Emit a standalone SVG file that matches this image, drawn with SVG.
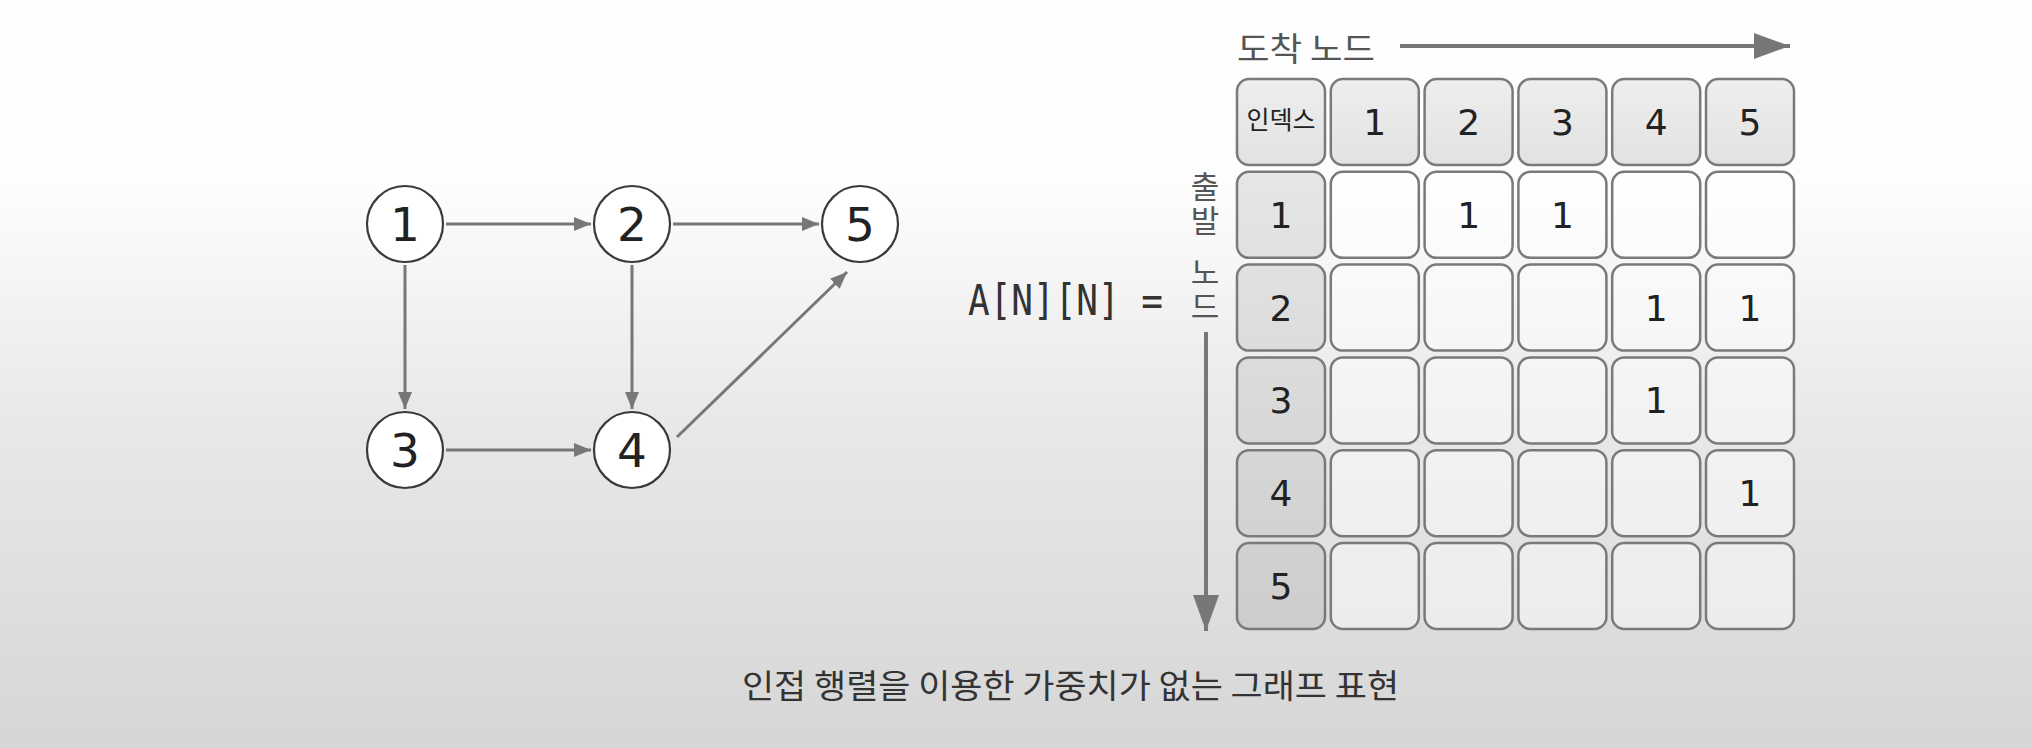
<svg xmlns="http://www.w3.org/2000/svg" width="2032" height="748" viewBox="0 0 2032 748">
<defs>
<linearGradient id="bg" x1="0" y1="0" x2="0" y2="1">
<stop offset="0" stop-color="#ffffff"/>
<stop offset="0.25" stop-color="#fdfdfd"/>
<stop offset="0.55" stop-color="#e9e9e9"/>
<stop offset="1" stop-color="#d6d6d6"/>
</linearGradient>
<linearGradient id="hdr" x1="0" y1="0" x2="0" y2="1">
<stop offset="0" stop-color="#eeeeee"/>
<stop offset="1" stop-color="#e2e2e2"/>
</linearGradient>
<linearGradient id="idx" gradientUnits="userSpaceOnUse" x1="0" y1="172" x2="0" y2="629">
<stop offset="0" stop-color="#e6e6e6"/>
<stop offset="1" stop-color="#cdcdcd"/>
</linearGradient>
<marker id="ah" markerUnits="userSpaceOnUse" markerWidth="18" markerHeight="16" refX="17" refY="8" orient="auto">
<path d="M0,1 L17,8 L0,15 Z" fill="#777"/>
</marker>
<marker id="ahBig" markerUnits="userSpaceOnUse" markerWidth="38" markerHeight="28" refX="36" refY="13" orient="auto">
<path d="M0,0 L36,13 L0,26 Z" fill="#777"/>
</marker>
</defs>
<style>
.nc{fill:#ffffff;stroke:#3a3a3a;stroke-width:2.2}
.nt{font-family:"DejaVu Sans","Noto Sans",sans-serif;font-size:47px;fill:#222;text-anchor:middle}
.ed{stroke:#777;stroke-width:3;fill:none;marker-end:url(#ah)}
.big{stroke:#777;stroke-width:4;fill:none;marker-end:url(#ahBig)}
.ch{fill:url(#hdr);stroke:#7a7a7a;stroke-width:2.5}
.ci{fill:url(#idx);stroke:#7a7a7a;stroke-width:2.5}
.cd{fill:#ffffff;fill-opacity:0.45;stroke:#7a7a7a;stroke-width:2.5}
.ct{font-family:"DejaVu Sans","Noto Sans",sans-serif;font-size:36px;fill:#222;text-anchor:middle}
.kr{font-family:"Noto Sans CJK KR","Noto Sans",sans-serif}
.vt{font-family:"Noto Sans CJK KR","Noto Sans",sans-serif;font-size:31px;fill:#555;writing-mode:vertical-rl;text-orientation:upright;letter-spacing:3px}
</style>
<rect x="0" y="0" width="2032" height="748" fill="url(#bg)"/>

<g id="connectors">
<line class="ed" x1="446" y1="224" x2="591" y2="224"/>
<line class="ed" x1="673" y1="224" x2="819" y2="224"/>
<line class="ed" x1="405" y1="265" x2="405" y2="409"/>
<line class="ed" x1="632" y1="265" x2="632" y2="409"/>
<line class="ed" x1="446" y1="450" x2="591" y2="450"/>
<line class="ed" x1="677" y1="437" x2="847" y2="272"/>
<line class="big" x1="1400" y1="46" x2="1790" y2="46"/>
<line class="big" x1="1206" y1="332" x2="1206" y2="631"/>
</g>

<g id="node-1"><circle class="nc" cx="405" cy="224" r="38"/><text class="nt" x="405" y="241">1</text></g>
<g id="node-2"><circle class="nc" cx="632" cy="224" r="38"/><text class="nt" x="632" y="241">2</text></g>
<g id="node-5"><circle class="nc" cx="860" cy="224" r="38"/><text class="nt" x="860" y="241">5</text></g>
<g id="node-3"><circle class="nc" cx="405" cy="450" r="38"/><text class="nt" x="405" y="467">3</text></g>
<g id="node-4"><circle class="nc" cx="632" cy="450" r="38"/><text class="nt" x="632" y="467">4</text></g>

<g id="labels">
<text class="kr" x="1237" y="61" font-size="33" fill="#555" textLength="138" lengthAdjust="spacingAndGlyphs">도착 노드</text>
<text class="vt" x="1205" y="171">출발</text>
<text class="vt" x="1205" y="257">노드</text>
<text x="968" y="315" font-family="'DejaVu Sans Mono','Liberation Mono',monospace" font-size="43" fill="#333" textLength="195" lengthAdjust="spacingAndGlyphs">A[N][N] =</text>
<text class="kr" x="742" y="698" font-size="33" fill="#333" textLength="657" lengthAdjust="spacingAndGlyphs">인접 행렬을 이용한 가중치가 없는 그래프 표현</text>
</g>

<g id="matrix">
<g id="h-idx"><rect class="ch" x="1237" y="79" width="88" height="86" rx="12"/><text class="kr" x="1281" y="129" font-size="25" fill="#222" text-anchor="middle">인덱스</text></g>
<g id="h-1"><rect class="ch" x="1330.8" y="79" width="88" height="86" rx="12"/><text class="ct" x="1374.8" y="135">1</text></g>
<g id="h-2"><rect class="ch" x="1424.6" y="79" width="88" height="86" rx="12"/><text class="ct" x="1468.6" y="135">2</text></g>
<g id="h-3"><rect class="ch" x="1518.4" y="79" width="88" height="86" rx="12"/><text class="ct" x="1562.4" y="135">3</text></g>
<g id="h-4"><rect class="ch" x="1612.2" y="79" width="88" height="86" rx="12"/><text class="ct" x="1656.2" y="135">4</text></g>
<g id="h-5"><rect class="ch" x="1706" y="79" width="88" height="86" rx="12"/><text class="ct" x="1750" y="135">5</text></g>

<g id="r1">
<rect class="ci" x="1237" y="171.8" width="88" height="86" rx="12"/><text class="ct" x="1281" y="227.8">1</text>
<rect class="cd" x="1330.8" y="171.8" width="88" height="86" rx="12"/>
<rect class="cd" x="1424.6" y="171.8" width="88" height="86" rx="12"/><text class="ct" x="1468.6" y="227.8">1</text>
<rect class="cd" x="1518.4" y="171.8" width="88" height="86" rx="12"/><text class="ct" x="1562.4" y="227.8">1</text>
<rect class="cd" x="1612.2" y="171.8" width="88" height="86" rx="12"/>
<rect class="cd" x="1706" y="171.8" width="88" height="86" rx="12"/>
</g>
<g id="r2">
<rect class="ci" x="1237" y="264.6" width="88" height="86" rx="12"/><text class="ct" x="1281" y="320.6">2</text>
<rect class="cd" x="1330.8" y="264.6" width="88" height="86" rx="12"/>
<rect class="cd" x="1424.6" y="264.6" width="88" height="86" rx="12"/>
<rect class="cd" x="1518.4" y="264.6" width="88" height="86" rx="12"/>
<rect class="cd" x="1612.2" y="264.6" width="88" height="86" rx="12"/><text class="ct" x="1656.2" y="320.6">1</text>
<rect class="cd" x="1706" y="264.6" width="88" height="86" rx="12"/><text class="ct" x="1750" y="320.6">1</text>
</g>
<g id="r3">
<rect class="ci" x="1237" y="357.4" width="88" height="86" rx="12"/><text class="ct" x="1281" y="413.4">3</text>
<rect class="cd" x="1330.8" y="357.4" width="88" height="86" rx="12"/>
<rect class="cd" x="1424.6" y="357.4" width="88" height="86" rx="12"/>
<rect class="cd" x="1518.4" y="357.4" width="88" height="86" rx="12"/>
<rect class="cd" x="1612.2" y="357.4" width="88" height="86" rx="12"/><text class="ct" x="1656.2" y="413.4">1</text>
<rect class="cd" x="1706" y="357.4" width="88" height="86" rx="12"/>
</g>
<g id="r4">
<rect class="ci" x="1237" y="450.2" width="88" height="86" rx="12"/><text class="ct" x="1281" y="506.2">4</text>
<rect class="cd" x="1330.8" y="450.2" width="88" height="86" rx="12"/>
<rect class="cd" x="1424.6" y="450.2" width="88" height="86" rx="12"/>
<rect class="cd" x="1518.4" y="450.2" width="88" height="86" rx="12"/>
<rect class="cd" x="1612.2" y="450.2" width="88" height="86" rx="12"/>
<rect class="cd" x="1706" y="450.2" width="88" height="86" rx="12"/><text class="ct" x="1750" y="506.2">1</text>
</g>
<g id="r5">
<rect class="ci" x="1237" y="543" width="88" height="86" rx="12"/><text class="ct" x="1281" y="599">5</text>
<rect class="cd" x="1330.8" y="543" width="88" height="86" rx="12"/>
<rect class="cd" x="1424.6" y="543" width="88" height="86" rx="12"/>
<rect class="cd" x="1518.4" y="543" width="88" height="86" rx="12"/>
<rect class="cd" x="1612.2" y="543" width="88" height="86" rx="12"/>
<rect class="cd" x="1706" y="543" width="88" height="86" rx="12"/>
</g>
</g>
</svg>
